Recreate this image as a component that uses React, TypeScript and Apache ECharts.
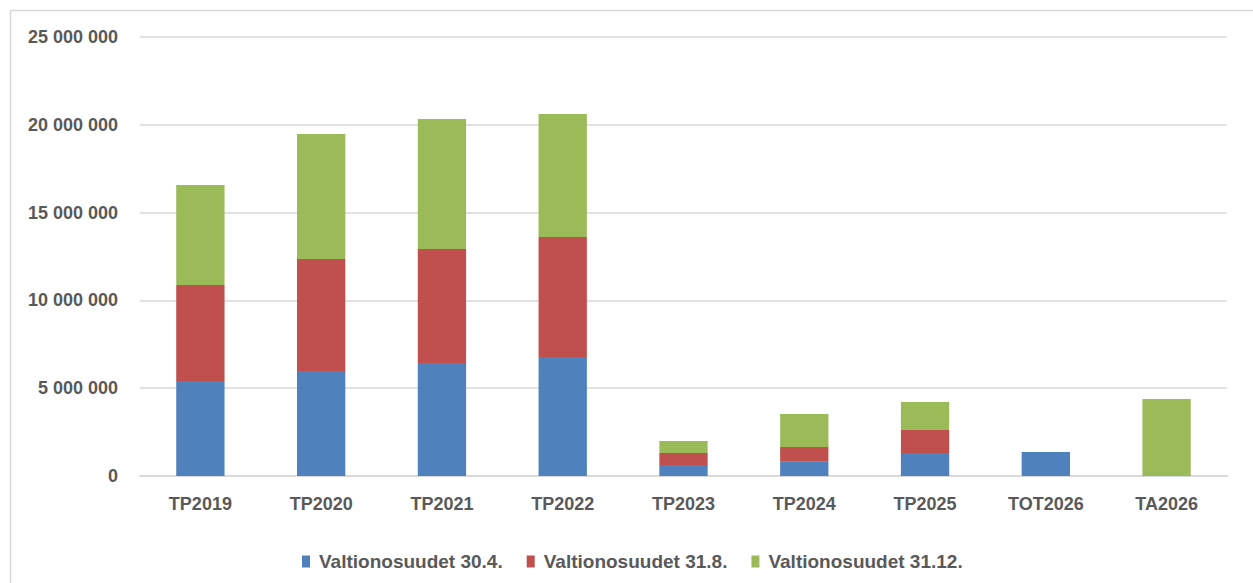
import React, { useEffect, useRef } from "react";
import * as echarts from "echarts";

const categories = ["TP2019", "TP2020", "TP2021", "TP2022", "TP2023", "TP2024", "TP2025", "TOT2026", "TA2026"];
const seriesNames = ["Valtionosuudet 30.4.", "Valtionosuudet 31.8.", "Valtionosuudet 31.12."];
const vo304 = [5410000, 5980000, 6430000, 6780000, 630000, 810000, 1310000, 1370000, 0];
const vo318 = [5470000, 6380000, 6500000, 6830000, 680000, 840000, 1310000, 0, 0];
const vo3112 = [5690000, 7120000, 7400000, 7000000, 680000, 1880000, 1590000, 0, 4380000];
const colors = ["#4F81BD", "#C0504D", "#9BBB59"];

const FONT = "'Liberation Sans', Arial, sans-serif";

function fmt(v: number): string {
  return String(Math.round(v)).replace(/\B(?=(\d{3})+(?!\d))/g, " ");
}

export default function App() {
  const ref = useRef<HTMLDivElement>(null);
  useEffect(() => {
    if (!ref.current) return;
    const chart = echarts.init(ref.current, null, { renderer: "svg" });
    const data = [vo304, vo318, vo3112];
    chart.setOption({
      animation: false,
      backgroundColor: "#ffffff",
      graphic: [
        {
          type: "rect",
          shape: { x: 10.5, y: 10.5, width: 1300, height: 700 },
          style: { fill: "none", stroke: "#D9D9D9", lineWidth: 1.5 },
          silent: true,
        },
      ],
      grid: { left: 140, right: 26, top: 37, bottom: 107, containLabel: false },
      legend: {
        left: 297,
        top: 547,
        itemWidth: 8,
        itemHeight: 12,
        itemGap: 24,
        icon: "rect",
        textStyle: { color: "#595959", fontSize: 19, fontWeight: "bold", fontFamily: FONT, padding: [0, 0, 0, 4] },
        data: seriesNames,
      },
      xAxis: {
        type: "category",
        data: categories,
        axisLine: { lineStyle: { color: "#D9D9D9", width: 2 } },
        axisTick: { show: false },
        axisLabel: { color: "#595959", fontSize: 18, fontWeight: "bold", fontFamily: FONT, margin: 19 },
      },
      yAxis: {
        type: "value",
        min: 0,
        max: 25000000,
        interval: 5000000,
        axisLine: { show: false },
        axisTick: { show: false },
        splitLine: { lineStyle: { color: "#D9D9D9", width: 1.5 } },
        axisLabel: { color: "#595959", fontSize: 18, fontWeight: "bold", fontFamily: FONT, margin: 22, formatter: (v: number) => fmt(v) },
      },
      series: seriesNames.map((name, i) => ({
        name,
        type: "bar",
        stack: "total",
        data: data[i],
        barWidth: "40%",
        itemStyle: { color: colors[i] },
      })),
    });
    return () => chart.dispose();
  }, []);
  return <div ref={ref} style={{ position: "fixed", left: 0, top: 0, width: 1253, height: 583 }} />;
}
